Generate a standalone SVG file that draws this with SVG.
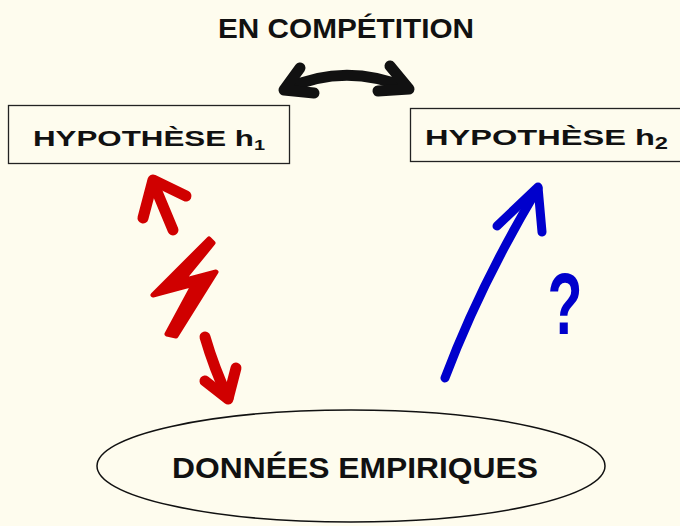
<svg xmlns="http://www.w3.org/2000/svg" width="680" height="526" viewBox="0 0 680 526">
<style>
.t{font-family:"Liberation Sans",Arial,sans-serif;font-weight:bold;fill:#111;}
.box{fill:#FEFCEE;stroke:#222;stroke-width:1.3;}
.blk{fill:none;stroke:#111;stroke-width:11;stroke-linecap:round;stroke-linejoin:round;}
.red{fill:none;stroke:#D00000;stroke-width:11;stroke-linecap:round;stroke-linejoin:round;}
.blue{fill:none;stroke:#0000CC;stroke-width:9;stroke-linecap:round;stroke-linejoin:round;}
</style>
<rect width="680" height="526" fill="#FEFCEE"/>
<g id="title"><text class="t" x="346" y="38" font-size="27" text-anchor="middle" textLength="256" lengthAdjust="spacingAndGlyphs">EN COMPÉTITION</text></g>
<g id="h1">
<rect class="box" x="8.5" y="105.5" width="281" height="58"/>
<text class="t" x="33" y="146" font-size="22" textLength="232" lengthAdjust="spacingAndGlyphs">HYPOTHÈSE h<tspan font-size="14" dy="4">1</tspan></text>
</g>
<g id="h2">
<rect class="box" x="410.5" y="108.5" width="275" height="53"/>
<text class="t" x="425" y="145" font-size="22" textLength="243" lengthAdjust="spacingAndGlyphs">HYPOTHÈSE h<tspan font-size="16" dy="4">2</tspan></text>
</g>
<g id="donnees">
<ellipse cx="351" cy="466" rx="254" ry="56" fill="#FEFCEE" stroke="#111" stroke-width="1.5"/>
<text class="t" x="355" y="478" font-size="30" text-anchor="middle" textLength="366" lengthAdjust="spacingAndGlyphs">DONNÉES EMPIRIQUES</text>
</g>
<g id="connectors">
<g id="competition-arrow">
<path class="blk" d="M286 89 Q345 62 407 88"/>
<path class="blk" d="M300 68 L284 90 L314 93"/>
<path class="blk" d="M390 66 L409 89 L378 91"/>
</g>
<g id="red-arrow">
<path class="red" d="M173 230 L153 182"/>
<path class="red" d="M143 218 L153 180 L186 196"/>
<path class="red" d="M205 337 Q214 368 228 398"/>
<path class="red" d="M205 381 L228 399 L236 368"/>
<polygon points="209,239 153,295 194,284 167,334 176,336 216,272 182,281 213,243" fill="#D00000" stroke="#D00000" stroke-width="5" stroke-linejoin="round"/>
</g>
<g id="blue-arrow">
<path class="blue" d="M445 378 Q480 285 538 188"/>
<path class="blue" d="M497 226 L538 187 L542 232"/>
</g>
</g>
<g id="question"><text transform="translate(565,334) scale(0.65,1)" font-family="Liberation Sans,Arial,sans-serif" font-weight="bold" font-size="88" fill="#0000CC" text-anchor="middle">?</text></g>
</svg>
